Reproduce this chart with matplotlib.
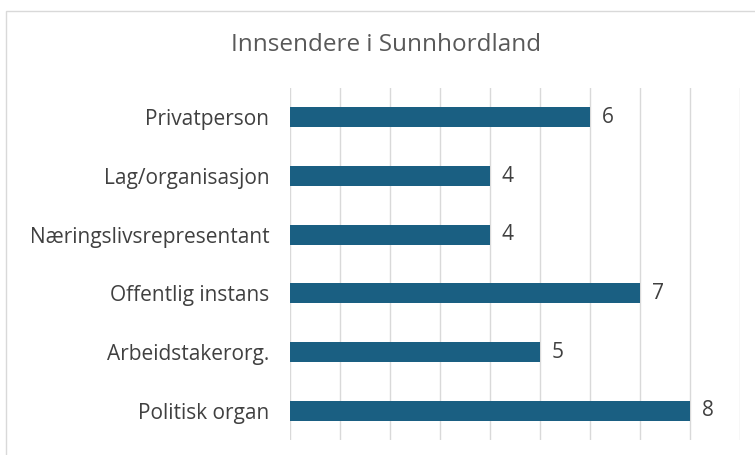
import numpy as np
import matplotlib.pyplot as plt
from matplotlib.patches import Rectangle

# -------------------------
# Data
# -------------------------

categories = ["Privatperson", "Lag/organisasjon", "Næringslivsrepresentant",
              "Offentlig instans", "Arbeidstakerorg.", "Politisk organ"]
values = [6, 4, 4, 7, 5, 8]

bar_color = "#1a5f82"
text_color = "#404040"

plt.rcParams['font.family'] = ['Open Sans', 'DejaVu Sans']

# -------------------------
# Figure
# -------------------------

fig = plt.figure(figsize=(7.55, 4.55), dpi=100)
ax = fig.add_axes([290 / 755, 1 - 440 / 455, 450 / 755, 352 / 455])

# chart frame
fig.patches.append(Rectangle((6 / 755, -0.1), 1.0, 1 - 11 / 455 + 0.1,
                             transform=fig.transFigure, fill=False,
                             edgecolor="#d9d9d9", linewidth=1.0))

y = np.arange(len(categories))
ax.barh(y, values, height=0.34, color=bar_color, zorder=3)

for yi, v in zip(y, values):
    ax.text(v + 0.24, yi, str(v), va="center", ha="left",
            fontsize=15, color=text_color)

ax.set_xlim(0, 9)
ax.set_ylim(len(categories) - 0.5, -0.5)
ax.set_yticks(y)
ax.set_yticklabels(categories, fontsize=15, color=text_color)
ax.set_xticks(np.arange(0, 10))
ax.set_xticklabels([])
ax.tick_params(length=0, pad=15)
ax.grid(axis="x", color="#d9d9d9", linewidth=1.0, zorder=0)

for s in ax.spines.values():
    s.set_visible(False)

fig.text(386 / 755, 1 - 45 / 455, "Innsendere i Sunnhordland",
         ha="center", va="center", fontsize=17.5, color="#595959")

plt.savefig("out.png", dpi=100)
